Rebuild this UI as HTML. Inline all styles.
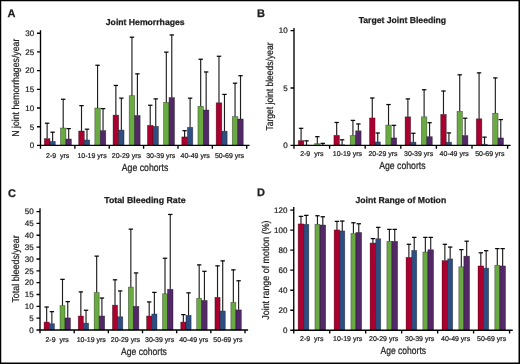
<!DOCTYPE html>
<html><head><meta charset="utf-8"><style>
html,body{margin:0;padding:0;background:#fff;}
svg{display:block;will-change:transform;}
text{font-family:"Liberation Sans",sans-serif;fill:#1e1e1e;text-rendering:geometricPrecision;}
.r{stroke:#1e1e1e;stroke-width:0.22px;}
.b{stroke:#1e1e1e;stroke-width:0.25px;}
</style></head><body>
<svg width="520" height="364" viewBox="0 0 520 364">
<rect x="0" y="0" width="520" height="364" fill="#000"/>
<rect x="1.25" y="1.25" width="517.25" height="361.25" fill="#fff"/>
<rect x="44.3" y="138.59" width="5.65" height="6.81" fill="#aa0030" stroke="#000" stroke-opacity="0.45" stroke-width="0.7"/>
<rect x="49.95" y="141.4" width="5.35" height="4" fill="#2e4d80" stroke="#000" stroke-opacity="0.45" stroke-width="0.7"/>
<rect x="60.45" y="128.01" width="5.5" height="17.39" fill="#6aaa42" stroke="#000" stroke-opacity="0.45" stroke-width="0.7"/>
<rect x="65.95" y="139.04" width="5.45" height="6.36" fill="#522866" stroke="#000" stroke-opacity="0.45" stroke-width="0.7"/>
<path d="M47.12 138.59V122.96" stroke="#1e1e1e" stroke-width="1.15" fill="none"/>
<path d="M44.92 123.21H49.33" stroke="#080808" stroke-width="1.25" fill="none"/>
<path d="M52.62 141.4V131.94" stroke="#1e1e1e" stroke-width="1.15" fill="none"/>
<path d="M50.42 132.19H54.83" stroke="#080808" stroke-width="1.25" fill="none"/>
<path d="M63.2 128.01V99.02" stroke="#1e1e1e" stroke-width="1.15" fill="none"/>
<path d="M61 99.27H65.4" stroke="#080808" stroke-width="1.25" fill="none"/>
<path d="M68.68 139.04V128.38" stroke="#1e1e1e" stroke-width="1.15" fill="none"/>
<path d="M66.48 128.63H70.88" stroke="#080808" stroke-width="1.25" fill="none"/>
<rect x="78.67" y="131" width="5.65" height="14.4" fill="#aa0030" stroke="#000" stroke-opacity="0.45" stroke-width="0.7"/>
<rect x="84.32" y="140.01" width="5.35" height="5.39" fill="#2e4d80" stroke="#000" stroke-opacity="0.45" stroke-width="0.7"/>
<rect x="94.82" y="108" width="5.5" height="37.4" fill="#6aaa42" stroke="#000" stroke-opacity="0.45" stroke-width="0.7"/>
<rect x="100.32" y="130.59" width="5.45" height="14.81" fill="#522866" stroke="#000" stroke-opacity="0.45" stroke-width="0.7"/>
<path d="M81.5 131V105.38" stroke="#1e1e1e" stroke-width="1.15" fill="none"/>
<path d="M79.3 105.63H83.7" stroke="#080808" stroke-width="1.25" fill="none"/>
<path d="M87 140.01V128.94" stroke="#1e1e1e" stroke-width="1.15" fill="none"/>
<path d="M84.8 129.19H89.2" stroke="#080808" stroke-width="1.25" fill="none"/>
<path d="M97.57 108V64.99" stroke="#1e1e1e" stroke-width="1.15" fill="none"/>
<path d="M95.37 65.24H99.77" stroke="#080808" stroke-width="1.25" fill="none"/>
<path d="M103.05 130.59V108.37" stroke="#1e1e1e" stroke-width="1.15" fill="none"/>
<path d="M100.85 108.62H105.25" stroke="#080808" stroke-width="1.25" fill="none"/>
<rect x="113.04" y="115.11" width="5.65" height="30.29" fill="#aa0030" stroke="#000" stroke-opacity="0.45" stroke-width="0.7"/>
<rect x="118.69" y="130.07" width="5.35" height="15.33" fill="#2e4d80" stroke="#000" stroke-opacity="0.45" stroke-width="0.7"/>
<rect x="129.19" y="95.66" width="5.5" height="49.74" fill="#6aaa42" stroke="#000" stroke-opacity="0.45" stroke-width="0.7"/>
<rect x="134.69" y="115.48" width="5.45" height="29.92" fill="#522866" stroke="#000" stroke-opacity="0.45" stroke-width="0.7"/>
<path d="M115.86 115.11V85.19" stroke="#1e1e1e" stroke-width="1.15" fill="none"/>
<path d="M113.66 85.44H118.06" stroke="#080808" stroke-width="1.25" fill="none"/>
<path d="M121.36 130.07V97.9" stroke="#1e1e1e" stroke-width="1.15" fill="none"/>
<path d="M119.16 98.15H123.56" stroke="#080808" stroke-width="1.25" fill="none"/>
<path d="M131.94 95.66V36.94" stroke="#1e1e1e" stroke-width="1.15" fill="none"/>
<path d="M129.74 37.19H134.14" stroke="#080808" stroke-width="1.25" fill="none"/>
<path d="M137.41 115.48V73.59" stroke="#1e1e1e" stroke-width="1.15" fill="none"/>
<path d="M135.22 73.84H139.61" stroke="#080808" stroke-width="1.25" fill="none"/>
<rect x="147.41" y="125.32" width="5.65" height="20.08" fill="#aa0030" stroke="#000" stroke-opacity="0.45" stroke-width="0.7"/>
<rect x="153.06" y="126.33" width="5.35" height="19.07" fill="#2e4d80" stroke="#000" stroke-opacity="0.45" stroke-width="0.7"/>
<rect x="163.56" y="102.39" width="5.5" height="43.01" fill="#6aaa42" stroke="#000" stroke-opacity="0.45" stroke-width="0.7"/>
<rect x="169.06" y="97.53" width="5.45" height="47.87" fill="#522866" stroke="#000" stroke-opacity="0.45" stroke-width="0.7"/>
<path d="M150.23 125.32V105.01" stroke="#1e1e1e" stroke-width="1.15" fill="none"/>
<path d="M148.03 105.26H152.43" stroke="#080808" stroke-width="1.25" fill="none"/>
<path d="M155.73 126.33V98.65" stroke="#1e1e1e" stroke-width="1.15" fill="none"/>
<path d="M153.53 98.9H157.93" stroke="#080808" stroke-width="1.25" fill="none"/>
<path d="M166.31 102.39V51.9" stroke="#1e1e1e" stroke-width="1.15" fill="none"/>
<path d="M164.11 52.15H168.51" stroke="#080808" stroke-width="1.25" fill="none"/>
<path d="M171.78 97.53V34.7" stroke="#1e1e1e" stroke-width="1.15" fill="none"/>
<path d="M169.58 34.95H173.98" stroke="#080808" stroke-width="1.25" fill="none"/>
<rect x="181.78" y="136.91" width="5.65" height="8.49" fill="#aa0030" stroke="#000" stroke-opacity="0.45" stroke-width="0.7"/>
<rect x="187.43" y="127.3" width="5.35" height="18.1" fill="#2e4d80" stroke="#000" stroke-opacity="0.45" stroke-width="0.7"/>
<rect x="197.93" y="106.32" width="5.5" height="39.08" fill="#6aaa42" stroke="#000" stroke-opacity="0.45" stroke-width="0.7"/>
<rect x="203.43" y="110.02" width="5.45" height="35.38" fill="#522866" stroke="#000" stroke-opacity="0.45" stroke-width="0.7"/>
<path d="M184.6 136.91V130.44" stroke="#1e1e1e" stroke-width="1.15" fill="none"/>
<path d="M182.41 130.69H186.8" stroke="#080808" stroke-width="1.25" fill="none"/>
<path d="M190.1 127.3V97.9" stroke="#1e1e1e" stroke-width="1.15" fill="none"/>
<path d="M187.91 98.15H192.3" stroke="#080808" stroke-width="1.25" fill="none"/>
<path d="M200.68 106.32V59.01" stroke="#1e1e1e" stroke-width="1.15" fill="none"/>
<path d="M198.48 59.26H202.88" stroke="#080808" stroke-width="1.25" fill="none"/>
<path d="M206.15 110.02V71.72" stroke="#1e1e1e" stroke-width="1.15" fill="none"/>
<path d="M203.95 71.97H208.35" stroke="#080808" stroke-width="1.25" fill="none"/>
<rect x="216.15" y="102.76" width="5.65" height="42.64" fill="#aa0030" stroke="#000" stroke-opacity="0.45" stroke-width="0.7"/>
<rect x="221.8" y="131.19" width="5.35" height="14.21" fill="#2e4d80" stroke="#000" stroke-opacity="0.45" stroke-width="0.7"/>
<rect x="232.3" y="116.6" width="5.5" height="28.8" fill="#6aaa42" stroke="#000" stroke-opacity="0.45" stroke-width="0.7"/>
<rect x="237.8" y="119" width="5.45" height="26.4" fill="#522866" stroke="#000" stroke-opacity="0.45" stroke-width="0.7"/>
<path d="M218.97 102.76V56.01" stroke="#1e1e1e" stroke-width="1.15" fill="none"/>
<path d="M216.78 56.26H221.17" stroke="#080808" stroke-width="1.25" fill="none"/>
<path d="M224.47 131.19V94.16" stroke="#1e1e1e" stroke-width="1.15" fill="none"/>
<path d="M222.28 94.41H226.67" stroke="#080808" stroke-width="1.25" fill="none"/>
<path d="M235.05 116.6V82.94" stroke="#1e1e1e" stroke-width="1.15" fill="none"/>
<path d="M232.85 83.19H237.25" stroke="#080808" stroke-width="1.25" fill="none"/>
<path d="M240.52 119V75.46" stroke="#1e1e1e" stroke-width="1.15" fill="none"/>
<path d="M238.32 75.71H242.72" stroke="#080808" stroke-width="1.25" fill="none"/>
<path d="M40.5 30.2V148.7M37 145.4H249.6M74.87 145.4V148.7M109.24 145.4V148.7M143.61 145.4V148.7M177.98 145.4V148.7M212.35 145.4V148.7M246.72 145.4V148.7M37 126.7H40.5M37 108H40.5M37 89.3H40.5M37 70.6H40.5M37 51.9H40.5M37 33.2H40.5" stroke="#000" stroke-width="1.35" fill="none"/>
<text x="34.2" y="148.25" text-anchor="end" font-size="8" class="r">0</text>
<text x="34.2" y="129.55" text-anchor="end" font-size="8" class="r">5</text>
<text x="34.2" y="110.85" text-anchor="end" font-size="8" class="r">10</text>
<text x="34.2" y="92.15" text-anchor="end" font-size="8" class="r">15</text>
<text x="34.2" y="73.45" text-anchor="end" font-size="8" class="r">20</text>
<text x="34.2" y="54.75" text-anchor="end" font-size="8" class="r">25</text>
<text x="34.2" y="36.05" text-anchor="end" font-size="8" class="r">30</text>
<text x="57.69" y="157.8" text-anchor="middle" font-size="7" class="r">2-9  yrs</text>
<text x="92.05" y="157.8" text-anchor="middle" font-size="7" class="r">10-19 yrs</text>
<text x="126.42" y="157.8" text-anchor="middle" font-size="7" class="r">20-29 yrs</text>
<text x="160.79" y="157.8" text-anchor="middle" font-size="7" class="r">30-39 yrs</text>
<text x="195.16" y="157.8" text-anchor="middle" font-size="7" class="r">40-49 yrs</text>
<text x="229.53" y="157.8" text-anchor="middle" font-size="7" class="r">50-69 yrs</text>
<text x="145" y="170.6" text-anchor="middle" font-size="10.3" class="r" textLength="46.5" lengthAdjust="spacingAndGlyphs">Age cohorts</text>
<text transform="translate(19.3 87.7) rotate(-90)" x="0" y="0" text-anchor="middle" font-size="10" class="r" textLength="98" lengthAdjust="spacingAndGlyphs">N joint hemorrhages/year</text>
<text x="145.2" y="24.9" text-anchor="middle" font-size="8.6" font-weight="bold" class="b" textLength="78.8" lengthAdjust="spacingAndGlyphs">Joint Hemorrhages</text>
<text x="7.6" y="16.8" font-size="11" font-weight="bold" class="b">A</text>
<rect x="298.3" y="140.58" width="5.55" height="4.82" fill="#aa0030" stroke="#000" stroke-opacity="0.45" stroke-width="0.7"/>
<rect x="303.85" y="145.17" width="5.35" height="0.23" fill="#2e4d80" stroke="#000" stroke-opacity="0.45" stroke-width="0.7"/>
<rect x="314.6" y="143.68" width="5.45" height="1.72" fill="#6aaa42" stroke="#000" stroke-opacity="0.45" stroke-width="0.7"/>
<rect x="320.05" y="145.17" width="5.45" height="0.23" fill="#522866" stroke="#000" stroke-opacity="0.45" stroke-width="0.7"/>
<path d="M301.08 140.58V128.07" stroke="#1e1e1e" stroke-width="1.15" fill="none"/>
<path d="M298.88 128.32H303.28" stroke="#080808" stroke-width="1.25" fill="none"/>
<path d="M306.52 145.17V140.58" stroke="#1e1e1e" stroke-width="1.15" fill="none"/>
<path d="M304.32 140.83H308.72" stroke="#080808" stroke-width="1.25" fill="none"/>
<path d="M317.33 143.68V136.45" stroke="#1e1e1e" stroke-width="1.15" fill="none"/>
<path d="M315.13 136.7H319.53" stroke="#080808" stroke-width="1.25" fill="none"/>
<path d="M322.77 145.17V143.1" stroke="#1e1e1e" stroke-width="1.15" fill="none"/>
<path d="M320.57 143.35H324.97" stroke="#080808" stroke-width="1.25" fill="none"/>
<rect x="333.9" y="135.3" width="5.55" height="10.1" fill="#aa0030" stroke="#000" stroke-opacity="0.45" stroke-width="0.7"/>
<rect x="339.45" y="144.83" width="5.35" height="0.57" fill="#2e4d80" stroke="#000" stroke-opacity="0.45" stroke-width="0.7"/>
<rect x="350.2" y="135.53" width="5.45" height="9.87" fill="#6aaa42" stroke="#000" stroke-opacity="0.45" stroke-width="0.7"/>
<rect x="355.65" y="130.82" width="5.45" height="14.58" fill="#522866" stroke="#000" stroke-opacity="0.45" stroke-width="0.7"/>
<path d="M336.68 135.3V122.21" stroke="#1e1e1e" stroke-width="1.15" fill="none"/>
<path d="M334.48 122.46H338.88" stroke="#080808" stroke-width="1.25" fill="none"/>
<path d="M342.12 144.83V139.55" stroke="#1e1e1e" stroke-width="1.15" fill="none"/>
<path d="M339.93 139.8H344.32" stroke="#080808" stroke-width="1.25" fill="none"/>
<path d="M352.93 135.53V120.14" stroke="#1e1e1e" stroke-width="1.15" fill="none"/>
<path d="M350.73 120.39H355.13" stroke="#080808" stroke-width="1.25" fill="none"/>
<path d="M358.38 130.82V123.7" stroke="#1e1e1e" stroke-width="1.15" fill="none"/>
<path d="M356.18 123.95H360.57" stroke="#080808" stroke-width="1.25" fill="none"/>
<rect x="369.5" y="117.96" width="5.55" height="27.44" fill="#aa0030" stroke="#000" stroke-opacity="0.45" stroke-width="0.7"/>
<rect x="375.05" y="141.96" width="5.35" height="3.44" fill="#2e4d80" stroke="#000" stroke-opacity="0.45" stroke-width="0.7"/>
<rect x="385.8" y="125.08" width="5.45" height="20.32" fill="#6aaa42" stroke="#000" stroke-opacity="0.45" stroke-width="0.7"/>
<rect x="391.25" y="137.94" width="5.45" height="7.46" fill="#522866" stroke="#000" stroke-opacity="0.45" stroke-width="0.7"/>
<path d="M372.27 117.96V97.76" stroke="#1e1e1e" stroke-width="1.15" fill="none"/>
<path d="M370.07 98.01H374.47" stroke="#080808" stroke-width="1.25" fill="none"/>
<path d="M377.73 141.96V132.77" stroke="#1e1e1e" stroke-width="1.15" fill="none"/>
<path d="M375.53 133.02H379.93" stroke="#080808" stroke-width="1.25" fill="none"/>
<path d="M388.52 125.08V104.3" stroke="#1e1e1e" stroke-width="1.15" fill="none"/>
<path d="M386.32 104.55H390.72" stroke="#080808" stroke-width="1.25" fill="none"/>
<path d="M393.98 137.94V125.08" stroke="#1e1e1e" stroke-width="1.15" fill="none"/>
<path d="M391.78 125.33H396.18" stroke="#080808" stroke-width="1.25" fill="none"/>
<rect x="405.1" y="116.81" width="5.55" height="28.59" fill="#aa0030" stroke="#000" stroke-opacity="0.45" stroke-width="0.7"/>
<rect x="410.65" y="142.19" width="5.35" height="3.21" fill="#2e4d80" stroke="#000" stroke-opacity="0.45" stroke-width="0.7"/>
<rect x="421.4" y="116.81" width="5.45" height="28.59" fill="#6aaa42" stroke="#000" stroke-opacity="0.45" stroke-width="0.7"/>
<rect x="426.85" y="136.68" width="5.45" height="8.72" fill="#522866" stroke="#000" stroke-opacity="0.45" stroke-width="0.7"/>
<path d="M407.88 116.81V98.68" stroke="#1e1e1e" stroke-width="1.15" fill="none"/>
<path d="M405.68 98.93H410.07" stroke="#080808" stroke-width="1.25" fill="none"/>
<path d="M413.33 142.19V133" stroke="#1e1e1e" stroke-width="1.15" fill="none"/>
<path d="M411.13 133.25H415.53" stroke="#080808" stroke-width="1.25" fill="none"/>
<path d="M424.12 116.81V89.49" stroke="#1e1e1e" stroke-width="1.15" fill="none"/>
<path d="M421.93 89.74H426.32" stroke="#080808" stroke-width="1.25" fill="none"/>
<path d="M429.58 136.68V122.44" stroke="#1e1e1e" stroke-width="1.15" fill="none"/>
<path d="M427.38 122.69H431.78" stroke="#080808" stroke-width="1.25" fill="none"/>
<rect x="440.7" y="114.4" width="5.55" height="31" fill="#aa0030" stroke="#000" stroke-opacity="0.45" stroke-width="0.7"/>
<rect x="446.25" y="142.19" width="5.35" height="3.21" fill="#2e4d80" stroke="#000" stroke-opacity="0.45" stroke-width="0.7"/>
<rect x="457" y="111.3" width="5.45" height="34.1" fill="#6aaa42" stroke="#000" stroke-opacity="0.45" stroke-width="0.7"/>
<rect x="462.45" y="135.53" width="5.45" height="9.87" fill="#522866" stroke="#000" stroke-opacity="0.45" stroke-width="0.7"/>
<path d="M443.48 114.4V90.76" stroke="#1e1e1e" stroke-width="1.15" fill="none"/>
<path d="M441.28 91.01H445.68" stroke="#080808" stroke-width="1.25" fill="none"/>
<path d="M448.92 142.19V132.66" stroke="#1e1e1e" stroke-width="1.15" fill="none"/>
<path d="M446.72 132.91H451.12" stroke="#080808" stroke-width="1.25" fill="none"/>
<path d="M459.73 111.3V74.57" stroke="#1e1e1e" stroke-width="1.15" fill="none"/>
<path d="M457.53 74.82H461.93" stroke="#080808" stroke-width="1.25" fill="none"/>
<path d="M465.17 135.53V117.96" stroke="#1e1e1e" stroke-width="1.15" fill="none"/>
<path d="M462.97 118.21H467.37" stroke="#080808" stroke-width="1.25" fill="none"/>
<rect x="476.3" y="118.77" width="5.55" height="26.63" fill="#aa0030" stroke="#000" stroke-opacity="0.45" stroke-width="0.7"/>
<rect x="481.85" y="144.25" width="5.35" height="1.15" fill="#2e4d80" stroke="#000" stroke-opacity="0.45" stroke-width="0.7"/>
<rect x="492.6" y="113.26" width="5.45" height="32.14" fill="#6aaa42" stroke="#000" stroke-opacity="0.45" stroke-width="0.7"/>
<rect x="498.05" y="137.94" width="5.45" height="7.46" fill="#522866" stroke="#000" stroke-opacity="0.45" stroke-width="0.7"/>
<path d="M479.08 118.77V72.62" stroke="#1e1e1e" stroke-width="1.15" fill="none"/>
<path d="M476.88 72.87H481.28" stroke="#080808" stroke-width="1.25" fill="none"/>
<path d="M484.52 144.25V136.9" stroke="#1e1e1e" stroke-width="1.15" fill="none"/>
<path d="M482.32 137.15H486.72" stroke="#080808" stroke-width="1.25" fill="none"/>
<path d="M495.33 113.26V77.67" stroke="#1e1e1e" stroke-width="1.15" fill="none"/>
<path d="M493.13 77.92H497.53" stroke="#080808" stroke-width="1.25" fill="none"/>
<path d="M500.77 137.94V119.34" stroke="#1e1e1e" stroke-width="1.15" fill="none"/>
<path d="M498.57 119.59H502.97" stroke="#080808" stroke-width="1.25" fill="none"/>
<path d="M294 28.1V148.7M290.5 145.4H510.6M329.6 145.4V148.7M365.2 145.4V148.7M400.8 145.4V148.7M436.4 145.4V148.7M472 145.4V148.7M507.6 145.4V148.7M290.5 88H294M290.5 30.6H294" stroke="#000" stroke-width="1.35" fill="none"/>
<text x="287.7" y="148.25" text-anchor="end" font-size="8" class="r">0</text>
<text x="287.7" y="90.85" text-anchor="end" font-size="8" class="r">5</text>
<text x="287.7" y="33.45" text-anchor="end" font-size="8" class="r">10</text>
<text x="311.8" y="155.8" text-anchor="middle" font-size="7" class="r">2-9  yrs</text>
<text x="347.4" y="155.8" text-anchor="middle" font-size="7" class="r">10-19 yrs</text>
<text x="383" y="155.8" text-anchor="middle" font-size="7" class="r">20-29 yrs</text>
<text x="418.6" y="155.8" text-anchor="middle" font-size="7" class="r">30-39 yrs</text>
<text x="454.2" y="155.8" text-anchor="middle" font-size="7" class="r">40-49 yrs</text>
<text x="489.8" y="155.8" text-anchor="middle" font-size="7" class="r">50-69 yrs</text>
<text x="402.4" y="168.6" text-anchor="middle" font-size="10.3" class="r" textLength="46.5" lengthAdjust="spacingAndGlyphs">Age cohorts</text>
<text transform="translate(273 86.5) rotate(-90)" x="0" y="0" text-anchor="middle" font-size="10" class="r" textLength="88" lengthAdjust="spacingAndGlyphs">Target joint bleeds/year</text>
<text x="402.4" y="22.8" text-anchor="middle" font-size="8.6" font-weight="bold" class="b" textLength="87.5" lengthAdjust="spacingAndGlyphs">Target Joint Bleeding</text>
<text x="256.9" y="16.9" font-size="11" font-weight="bold" class="b">B</text>
<rect x="44.07" y="322.09" width="5.2" height="7.91" fill="#aa0030" stroke="#000" stroke-opacity="0.45" stroke-width="0.7"/>
<rect x="49.27" y="323.7" width="5.18" height="6.3" fill="#2e4d80" stroke="#000" stroke-opacity="0.45" stroke-width="0.7"/>
<rect x="60" y="305.61" width="5" height="24.39" fill="#6aaa42" stroke="#000" stroke-opacity="0.45" stroke-width="0.7"/>
<rect x="65" y="317.92" width="5.5" height="12.08" fill="#522866" stroke="#000" stroke-opacity="0.45" stroke-width="0.7"/>
<path d="M46.67 322.09V306.79" stroke="#1e1e1e" stroke-width="1.15" fill="none"/>
<path d="M44.47 307.04H48.87" stroke="#080808" stroke-width="1.25" fill="none"/>
<path d="M51.86 323.7V311.41" stroke="#1e1e1e" stroke-width="1.15" fill="none"/>
<path d="M49.66 311.66H54.06" stroke="#080808" stroke-width="1.25" fill="none"/>
<path d="M62.5 305.61V279.09" stroke="#1e1e1e" stroke-width="1.15" fill="none"/>
<path d="M60.3 279.34H64.7" stroke="#080808" stroke-width="1.25" fill="none"/>
<path d="M67.75 317.92V301.35" stroke="#1e1e1e" stroke-width="1.15" fill="none"/>
<path d="M65.55 301.6H69.95" stroke="#080808" stroke-width="1.25" fill="none"/>
<rect x="78.24" y="316.03" width="5.2" height="13.97" fill="#aa0030" stroke="#000" stroke-opacity="0.45" stroke-width="0.7"/>
<rect x="83.44" y="323.13" width="5.18" height="6.87" fill="#2e4d80" stroke="#000" stroke-opacity="0.45" stroke-width="0.7"/>
<rect x="94.17" y="292.59" width="5" height="37.41" fill="#6aaa42" stroke="#000" stroke-opacity="0.45" stroke-width="0.7"/>
<rect x="99.17" y="316.03" width="5.5" height="13.97" fill="#522866" stroke="#000" stroke-opacity="0.45" stroke-width="0.7"/>
<path d="M80.84 316.03V291.64" stroke="#1e1e1e" stroke-width="1.15" fill="none"/>
<path d="M78.64 291.89H83.04" stroke="#080808" stroke-width="1.25" fill="none"/>
<path d="M86.03 323.13V309.99" stroke="#1e1e1e" stroke-width="1.15" fill="none"/>
<path d="M83.83 310.24H88.23" stroke="#080808" stroke-width="1.25" fill="none"/>
<path d="M96.67 292.59V255.88" stroke="#1e1e1e" stroke-width="1.15" fill="none"/>
<path d="M94.47 256.13H98.87" stroke="#080808" stroke-width="1.25" fill="none"/>
<path d="M101.92 316.03V297.8" stroke="#1e1e1e" stroke-width="1.15" fill="none"/>
<path d="M99.72 298.05H104.12" stroke="#080808" stroke-width="1.25" fill="none"/>
<rect x="112.41" y="305.14" width="5.2" height="24.86" fill="#aa0030" stroke="#000" stroke-opacity="0.45" stroke-width="0.7"/>
<rect x="117.61" y="316.74" width="5.18" height="13.26" fill="#2e4d80" stroke="#000" stroke-opacity="0.45" stroke-width="0.7"/>
<rect x="128.34" y="287.14" width="5" height="42.86" fill="#6aaa42" stroke="#000" stroke-opacity="0.45" stroke-width="0.7"/>
<rect x="133.34" y="306.32" width="5.5" height="23.68" fill="#522866" stroke="#000" stroke-opacity="0.45" stroke-width="0.7"/>
<path d="M115.01 305.14V279.56" stroke="#1e1e1e" stroke-width="1.15" fill="none"/>
<path d="M112.81 279.81H117.21" stroke="#080808" stroke-width="1.25" fill="none"/>
<path d="M120.2 316.74V290.69" stroke="#1e1e1e" stroke-width="1.15" fill="none"/>
<path d="M118 290.94H122.4" stroke="#080808" stroke-width="1.25" fill="none"/>
<path d="M130.84 287.14V228.89" stroke="#1e1e1e" stroke-width="1.15" fill="none"/>
<path d="M128.64 229.14H133.04" stroke="#080808" stroke-width="1.25" fill="none"/>
<path d="M136.09 306.32V272.69" stroke="#1e1e1e" stroke-width="1.15" fill="none"/>
<path d="M133.89 272.94H138.29" stroke="#080808" stroke-width="1.25" fill="none"/>
<rect x="146.58" y="316.03" width="5.2" height="13.97" fill="#aa0030" stroke="#000" stroke-opacity="0.45" stroke-width="0.7"/>
<rect x="151.78" y="314.02" width="5.18" height="15.98" fill="#2e4d80" stroke="#000" stroke-opacity="0.45" stroke-width="0.7"/>
<rect x="162.51" y="293.77" width="5" height="36.23" fill="#6aaa42" stroke="#000" stroke-opacity="0.45" stroke-width="0.7"/>
<rect x="167.51" y="289.27" width="5.5" height="40.73" fill="#522866" stroke="#000" stroke-opacity="0.45" stroke-width="0.7"/>
<path d="M149.18 316.03V301.7" stroke="#1e1e1e" stroke-width="1.15" fill="none"/>
<path d="M146.98 301.95H151.38" stroke="#080808" stroke-width="1.25" fill="none"/>
<path d="M154.37 314.02V292.11" stroke="#1e1e1e" stroke-width="1.15" fill="none"/>
<path d="M152.17 292.36H156.57" stroke="#080808" stroke-width="1.25" fill="none"/>
<path d="M165.01 293.77V258.01" stroke="#1e1e1e" stroke-width="1.15" fill="none"/>
<path d="M162.81 258.26H167.21" stroke="#080808" stroke-width="1.25" fill="none"/>
<path d="M170.26 289.27V214.2" stroke="#1e1e1e" stroke-width="1.15" fill="none"/>
<path d="M168.06 214.45H172.46" stroke="#080808" stroke-width="1.25" fill="none"/>
<rect x="180.75" y="322.09" width="5.2" height="7.91" fill="#aa0030" stroke="#000" stroke-opacity="0.45" stroke-width="0.7"/>
<rect x="185.95" y="315.32" width="5.18" height="14.68" fill="#2e4d80" stroke="#000" stroke-opacity="0.45" stroke-width="0.7"/>
<rect x="196.68" y="298.27" width="5" height="31.73" fill="#6aaa42" stroke="#000" stroke-opacity="0.45" stroke-width="0.7"/>
<rect x="201.68" y="300.4" width="5.5" height="29.6" fill="#522866" stroke="#000" stroke-opacity="0.45" stroke-width="0.7"/>
<path d="M183.35 322.09V314.37" stroke="#1e1e1e" stroke-width="1.15" fill="none"/>
<path d="M181.15 314.62H185.55" stroke="#080808" stroke-width="1.25" fill="none"/>
<path d="M188.54 315.32V292.59" stroke="#1e1e1e" stroke-width="1.15" fill="none"/>
<path d="M186.34 292.84H190.74" stroke="#080808" stroke-width="1.25" fill="none"/>
<path d="M199.18 298.27V264.64" stroke="#1e1e1e" stroke-width="1.15" fill="none"/>
<path d="M196.98 264.89H201.38" stroke="#080808" stroke-width="1.25" fill="none"/>
<path d="M204.43 300.4V271.04" stroke="#1e1e1e" stroke-width="1.15" fill="none"/>
<path d="M202.23 271.29H206.63" stroke="#080808" stroke-width="1.25" fill="none"/>
<rect x="214.92" y="297.32" width="5.2" height="32.68" fill="#aa0030" stroke="#000" stroke-opacity="0.45" stroke-width="0.7"/>
<rect x="220.12" y="311.06" width="5.18" height="18.94" fill="#2e4d80" stroke="#000" stroke-opacity="0.45" stroke-width="0.7"/>
<rect x="230.85" y="302.29" width="5" height="27.71" fill="#6aaa42" stroke="#000" stroke-opacity="0.45" stroke-width="0.7"/>
<rect x="235.85" y="309.87" width="5.5" height="20.13" fill="#522866" stroke="#000" stroke-opacity="0.45" stroke-width="0.7"/>
<path d="M217.52 297.32V265.59" stroke="#1e1e1e" stroke-width="1.15" fill="none"/>
<path d="M215.32 265.84H219.72" stroke="#080808" stroke-width="1.25" fill="none"/>
<path d="M222.71 311.06V260.62" stroke="#1e1e1e" stroke-width="1.15" fill="none"/>
<path d="M220.51 260.87H224.91" stroke="#080808" stroke-width="1.25" fill="none"/>
<path d="M233.35 302.29V269.62" stroke="#1e1e1e" stroke-width="1.15" fill="none"/>
<path d="M231.15 269.87H235.55" stroke="#080808" stroke-width="1.25" fill="none"/>
<path d="M238.6 309.87V280.51" stroke="#1e1e1e" stroke-width="1.15" fill="none"/>
<path d="M236.4 280.76H240.8" stroke="#080808" stroke-width="1.25" fill="none"/>
<path d="M40 208.3V333.3M36.5 330H248.1M74.17 330V333.3M108.34 330V333.3M142.51 330V333.3M176.68 330V333.3M210.85 330V333.3M245.02 330V333.3M36.5 318.16H40M36.5 306.32H40M36.5 294.48H40M36.5 282.64H40M36.5 270.8H40M36.5 258.96H40M36.5 247.12H40M36.5 235.28H40M36.5 223.44H40M36.5 211.6H40" stroke="#000" stroke-width="1.35" fill="none"/>
<text x="33.7" y="332.85" text-anchor="end" font-size="8" class="r">0</text>
<text x="33.7" y="321.01" text-anchor="end" font-size="8" class="r">5</text>
<text x="33.7" y="309.17" text-anchor="end" font-size="8" class="r">10</text>
<text x="33.7" y="297.33" text-anchor="end" font-size="8" class="r">15</text>
<text x="33.7" y="285.49" text-anchor="end" font-size="8" class="r">20</text>
<text x="33.7" y="273.65" text-anchor="end" font-size="8" class="r">25</text>
<text x="33.7" y="261.81" text-anchor="end" font-size="8" class="r">30</text>
<text x="33.7" y="249.97" text-anchor="end" font-size="8" class="r">35</text>
<text x="33.7" y="238.13" text-anchor="end" font-size="8" class="r">40</text>
<text x="33.7" y="226.29" text-anchor="end" font-size="8" class="r">45</text>
<text x="33.7" y="214.45" text-anchor="end" font-size="8" class="r">50</text>
<text x="57.09" y="341.5" text-anchor="middle" font-size="7" class="r">2-9  yrs</text>
<text x="91.25" y="341.5" text-anchor="middle" font-size="7" class="r">10-19 yrs</text>
<text x="125.43" y="341.5" text-anchor="middle" font-size="7" class="r">20-29 yrs</text>
<text x="159.59" y="341.5" text-anchor="middle" font-size="7" class="r">30-39 yrs</text>
<text x="193.77" y="341.5" text-anchor="middle" font-size="7" class="r">40-49 yrs</text>
<text x="227.94" y="341.5" text-anchor="middle" font-size="7" class="r">50-69 yrs</text>
<text x="144" y="354.6" text-anchor="middle" font-size="10.3" class="r" textLength="45.8" lengthAdjust="spacingAndGlyphs">Age cohorts</text>
<text transform="translate(19.3 269) rotate(-90)" x="0" y="0" text-anchor="middle" font-size="10" class="r" textLength="67.2" lengthAdjust="spacingAndGlyphs">Total bleeds/year</text>
<text x="144.9" y="203.2" text-anchor="middle" font-size="8.6" font-weight="bold" class="b" textLength="81.4" lengthAdjust="spacingAndGlyphs">Total Bleeding Rate</text>
<text x="8.1" y="196.7" font-size="11" font-weight="bold" class="b">C</text>
<rect x="298.15" y="223.92" width="5.65" height="106.33" fill="#aa0030" stroke="#000" stroke-opacity="0.45" stroke-width="0.7"/>
<rect x="303.8" y="224.32" width="5" height="105.93" fill="#2e4d80" stroke="#000" stroke-opacity="0.45" stroke-width="0.7"/>
<rect x="314.95" y="224.32" width="5" height="105.93" fill="#6aaa42" stroke="#000" stroke-opacity="0.45" stroke-width="0.7"/>
<rect x="319.95" y="225.02" width="5.7" height="105.23" fill="#522866" stroke="#000" stroke-opacity="0.45" stroke-width="0.7"/>
<path d="M300.98 223.92V216.11" stroke="#1e1e1e" stroke-width="1.15" fill="none"/>
<path d="M298.78 216.36H303.18" stroke="#080808" stroke-width="1.25" fill="none"/>
<path d="M306.3 224.32V215.11" stroke="#1e1e1e" stroke-width="1.15" fill="none"/>
<path d="M304.1 215.36H308.5" stroke="#080808" stroke-width="1.25" fill="none"/>
<path d="M317.45 224.32V215.51" stroke="#1e1e1e" stroke-width="1.15" fill="none"/>
<path d="M315.25 215.76H319.65" stroke="#080808" stroke-width="1.25" fill="none"/>
<path d="M322.8 225.02V216.51" stroke="#1e1e1e" stroke-width="1.15" fill="none"/>
<path d="M320.6 216.76H325" stroke="#080808" stroke-width="1.25" fill="none"/>
<rect x="334.12" y="229.92" width="5.65" height="100.33" fill="#aa0030" stroke="#000" stroke-opacity="0.45" stroke-width="0.7"/>
<rect x="339.77" y="230.93" width="5" height="99.32" fill="#2e4d80" stroke="#000" stroke-opacity="0.45" stroke-width="0.7"/>
<rect x="350.92" y="233.53" width="5" height="96.72" fill="#6aaa42" stroke="#000" stroke-opacity="0.45" stroke-width="0.7"/>
<rect x="355.92" y="232.43" width="5.7" height="97.82" fill="#522866" stroke="#000" stroke-opacity="0.45" stroke-width="0.7"/>
<path d="M336.95 229.92V221.11" stroke="#1e1e1e" stroke-width="1.15" fill="none"/>
<path d="M334.75 221.36H339.15" stroke="#080808" stroke-width="1.25" fill="none"/>
<path d="M342.27 230.93V220.81" stroke="#1e1e1e" stroke-width="1.15" fill="none"/>
<path d="M340.07 221.06H344.47" stroke="#080808" stroke-width="1.25" fill="none"/>
<path d="M353.42 233.53V222.52" stroke="#1e1e1e" stroke-width="1.15" fill="none"/>
<path d="M351.22 222.77H355.62" stroke="#080808" stroke-width="1.25" fill="none"/>
<path d="M358.77 232.43V223.52" stroke="#1e1e1e" stroke-width="1.15" fill="none"/>
<path d="M356.57 223.77H360.97" stroke="#080808" stroke-width="1.25" fill="none"/>
<rect x="370.09" y="243.04" width="5.65" height="87.21" fill="#aa0030" stroke="#000" stroke-opacity="0.45" stroke-width="0.7"/>
<rect x="375.74" y="238.74" width="5" height="91.51" fill="#2e4d80" stroke="#000" stroke-opacity="0.45" stroke-width="0.7"/>
<rect x="386.89" y="241.34" width="5" height="88.91" fill="#6aaa42" stroke="#000" stroke-opacity="0.45" stroke-width="0.7"/>
<rect x="391.89" y="241.34" width="5.7" height="88.91" fill="#522866" stroke="#000" stroke-opacity="0.45" stroke-width="0.7"/>
<path d="M372.91 243.04V238.34" stroke="#1e1e1e" stroke-width="1.15" fill="none"/>
<path d="M370.71 238.59H375.11" stroke="#080808" stroke-width="1.25" fill="none"/>
<path d="M378.24 238.74V227.12" stroke="#1e1e1e" stroke-width="1.15" fill="none"/>
<path d="M376.04 227.37H380.44" stroke="#080808" stroke-width="1.25" fill="none"/>
<path d="M389.39 241.34V229.12" stroke="#1e1e1e" stroke-width="1.15" fill="none"/>
<path d="M387.19 229.37H391.59" stroke="#080808" stroke-width="1.25" fill="none"/>
<path d="M394.74 241.34V229.12" stroke="#1e1e1e" stroke-width="1.15" fill="none"/>
<path d="M392.54 229.37H396.94" stroke="#080808" stroke-width="1.25" fill="none"/>
<rect x="406.06" y="257.36" width="5.65" height="72.89" fill="#aa0030" stroke="#000" stroke-opacity="0.45" stroke-width="0.7"/>
<rect x="411.71" y="250.45" width="5" height="79.8" fill="#2e4d80" stroke="#000" stroke-opacity="0.45" stroke-width="0.7"/>
<rect x="422.86" y="252.05" width="5" height="78.2" fill="#6aaa42" stroke="#000" stroke-opacity="0.45" stroke-width="0.7"/>
<rect x="427.86" y="249.75" width="5.7" height="80.5" fill="#522866" stroke="#000" stroke-opacity="0.45" stroke-width="0.7"/>
<path d="M408.88 257.36V244.04" stroke="#1e1e1e" stroke-width="1.15" fill="none"/>
<path d="M406.69 244.29H411.08" stroke="#080808" stroke-width="1.25" fill="none"/>
<path d="M414.21 250.45V237.13" stroke="#1e1e1e" stroke-width="1.15" fill="none"/>
<path d="M412.01 237.38H416.41" stroke="#080808" stroke-width="1.25" fill="none"/>
<path d="M425.36 252.05V237.13" stroke="#1e1e1e" stroke-width="1.15" fill="none"/>
<path d="M423.16 237.38H427.56" stroke="#080808" stroke-width="1.25" fill="none"/>
<path d="M430.71 249.75V237.13" stroke="#1e1e1e" stroke-width="1.15" fill="none"/>
<path d="M428.51 237.38H432.91" stroke="#080808" stroke-width="1.25" fill="none"/>
<rect x="442.03" y="260.56" width="5.65" height="69.69" fill="#aa0030" stroke="#000" stroke-opacity="0.45" stroke-width="0.7"/>
<rect x="447.68" y="258.86" width="5" height="71.39" fill="#2e4d80" stroke="#000" stroke-opacity="0.45" stroke-width="0.7"/>
<rect x="458.83" y="266.77" width="5" height="63.48" fill="#6aaa42" stroke="#000" stroke-opacity="0.45" stroke-width="0.7"/>
<rect x="463.83" y="256.16" width="5.7" height="74.09" fill="#522866" stroke="#000" stroke-opacity="0.45" stroke-width="0.7"/>
<path d="M444.86 260.56V244.04" stroke="#1e1e1e" stroke-width="1.15" fill="none"/>
<path d="M442.66 244.29H447.06" stroke="#080808" stroke-width="1.25" fill="none"/>
<path d="M450.18 258.86V246.85" stroke="#1e1e1e" stroke-width="1.15" fill="none"/>
<path d="M447.98 247.1H452.38" stroke="#080808" stroke-width="1.25" fill="none"/>
<path d="M461.33 266.77V249.35" stroke="#1e1e1e" stroke-width="1.15" fill="none"/>
<path d="M459.13 249.6H463.53" stroke="#080808" stroke-width="1.25" fill="none"/>
<path d="M466.68 256.16V240.94" stroke="#1e1e1e" stroke-width="1.15" fill="none"/>
<path d="M464.48 241.19H468.88" stroke="#080808" stroke-width="1.25" fill="none"/>
<rect x="478" y="265.97" width="5.65" height="64.28" fill="#aa0030" stroke="#000" stroke-opacity="0.45" stroke-width="0.7"/>
<rect x="483.65" y="268.17" width="5" height="62.08" fill="#2e4d80" stroke="#000" stroke-opacity="0.45" stroke-width="0.7"/>
<rect x="494.8" y="265.27" width="5" height="64.98" fill="#6aaa42" stroke="#000" stroke-opacity="0.45" stroke-width="0.7"/>
<rect x="499.8" y="265.97" width="5.7" height="64.28" fill="#522866" stroke="#000" stroke-opacity="0.45" stroke-width="0.7"/>
<path d="M480.83 265.97V252.55" stroke="#1e1e1e" stroke-width="1.15" fill="none"/>
<path d="M478.63 252.8H483.03" stroke="#080808" stroke-width="1.25" fill="none"/>
<path d="M486.15 268.17V250.45" stroke="#1e1e1e" stroke-width="1.15" fill="none"/>
<path d="M483.95 250.7H488.35" stroke="#080808" stroke-width="1.25" fill="none"/>
<path d="M497.3 265.27V248.35" stroke="#1e1e1e" stroke-width="1.15" fill="none"/>
<path d="M495.1 248.6H499.5" stroke="#080808" stroke-width="1.25" fill="none"/>
<path d="M502.65 265.97V248.35" stroke="#1e1e1e" stroke-width="1.15" fill="none"/>
<path d="M500.45 248.6H504.85" stroke="#080808" stroke-width="1.25" fill="none"/>
<path d="M293.75 207V333.55M290.25 330.25H512.75M329.72 330.25V333.55M365.69 330.25V333.55M401.66 330.25V333.55M437.63 330.25V333.55M473.6 330.25V333.55M509.57 330.25V333.55M290.25 310.23H293.75M290.25 290.2H293.75M290.25 270.18H293.75M290.25 250.15H293.75M290.25 230.12H293.75M290.25 210.1H293.75" stroke="#000" stroke-width="1.35" fill="none"/>
<text x="287.45" y="333.1" text-anchor="end" font-size="8" class="r">0</text>
<text x="287.45" y="313.08" text-anchor="end" font-size="8" class="r">20</text>
<text x="287.45" y="293.05" text-anchor="end" font-size="8" class="r">40</text>
<text x="287.45" y="273.03" text-anchor="end" font-size="8" class="r">60</text>
<text x="287.45" y="253" text-anchor="end" font-size="8" class="r">80</text>
<text x="287.45" y="232.97" text-anchor="end" font-size="8" class="r">100</text>
<text x="287.45" y="212.95" text-anchor="end" font-size="8" class="r">120</text>
<text x="311.74" y="340.6" text-anchor="middle" font-size="7" class="r">2-9  yrs</text>
<text x="347.7" y="340.6" text-anchor="middle" font-size="7" class="r">10-19 yrs</text>
<text x="383.68" y="340.6" text-anchor="middle" font-size="7" class="r">20-29 yrs</text>
<text x="419.64" y="340.6" text-anchor="middle" font-size="7" class="r">30-39 yrs</text>
<text x="455.62" y="340.6" text-anchor="middle" font-size="7" class="r">40-49 yrs</text>
<text x="491.58" y="340.6" text-anchor="middle" font-size="7" class="r">50-69 yrs</text>
<text x="403.3" y="353.5" text-anchor="middle" font-size="10.3" class="r" textLength="45.7" lengthAdjust="spacingAndGlyphs">Age cohorts</text>
<text transform="translate(269.4 270.1) rotate(-90)" x="0" y="0" text-anchor="middle" font-size="10" class="r" textLength="99.2" lengthAdjust="spacingAndGlyphs">Joint range of motion (%)</text>
<text x="400.8" y="202.6" text-anchor="middle" font-size="8.6" font-weight="bold" class="b" textLength="90.8" lengthAdjust="spacingAndGlyphs">Joint Range of Motion</text>
<text x="256.9" y="196.4" font-size="11" font-weight="bold" class="b">D</text>
</svg>
</body></html>
